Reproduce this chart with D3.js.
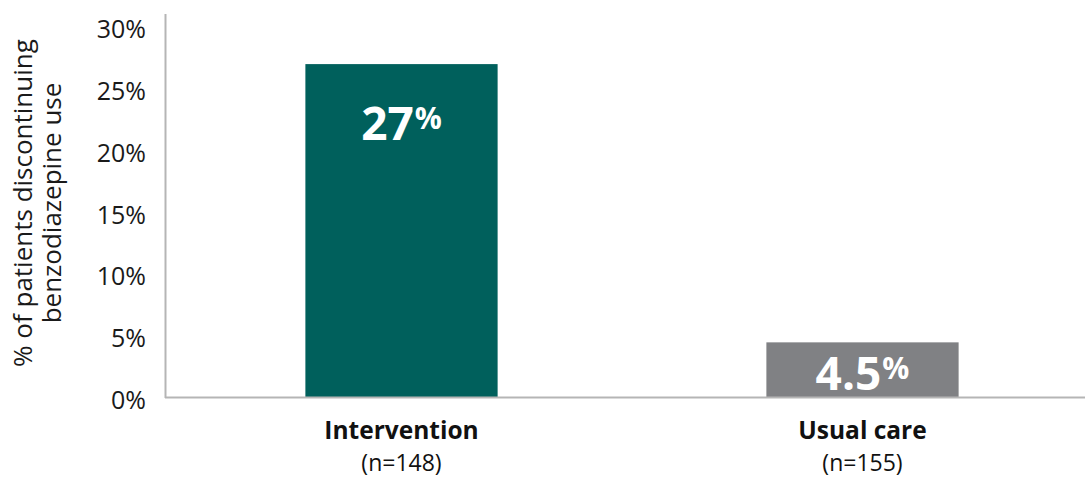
<!DOCTYPE html>
<html>
<head>
<meta charset="utf-8">
<script src="https://cdn.jsdelivr.net/npm/d3@7"></script>
<style>
  html, body { margin: 0; padding: 0; background: #fff; }
  svg { display: block; font-family: "Open Sans", "Noto Sans", sans-serif; }
</style>
</head>
<body>
<svg id="chart"></svg>
<script>
// ── Data ──
const groups = ['Intervention', 'Usual care'];
const groupN = ['(n=148)', '(n=155)'];
const values = [27, 4.5];
const valueLabels = ['27', '4.5'];
const barColors = ['#00605c', '#808184'];
const yTicks = [0, 5, 10, 15, 20, 25, 30];
const yTitle = ['% of patients discontinuing', 'benzodiazepine use'];

const W = 1085, H = 478;
const svg = d3.select('#chart').attr('width', W).attr('height', H);

// ── Scales ──
const y = d3.scaleLinear().domain([0, 30]).range([398, 27]);
const x = d3.scaleBand().domain(groups).range([171, 1093])
  .paddingInner(0.583).paddingOuter(0.2915);

// ── Y axis ──
const yAxis = d3.axisLeft(y).tickValues(yTicks).tickSize(0).tickPadding(19)
  .tickFormat(d => d + '%');
const ya = svg.append('g').attr('transform', 'translate(165,0)').call(yAxis);
ya.select('.domain').remove();
ya.selectAll('text').attr('font-size', 25).attr('fill', '#1a1a1a')
  .attr('font-family', '"Open Sans", sans-serif').attr('dy', '0.42em');

svg.append('line').attr('x1', 165.5).attr('x2', 165.5).attr('y1', 14).attr('y2', 398)
  .attr('stroke', '#b5b5b5').attr('stroke-width', 2);

// ── Bars ──
svg.append('g').selectAll('rect').data(values).enter().append('rect')
  .attr('x', (d, i) => x(groups[i]))
  .attr('width', x.bandwidth())
  .attr('y', d => y(d))
  .attr('height', d => y(0) - y(d))
  .attr('fill', (d, i) => barColors[i]);

// baseline
svg.append('line').attr('x1', 165).attr('x2', W).attr('y1', 397.5).attr('y2', 397.5)
  .attr('stroke', '#b5b5b5').attr('stroke-width', 2);

// ── Value labels ──
const vl = svg.append('g').selectAll('text').data(values).enter().append('text')
  .attr('x', (d, i) => x(groups[i]) + x.bandwidth() / 2)
  .attr('y', (d, i) => i === 0 ? y(d) + 76 : y(0) - 8)
  .attr('text-anchor', 'middle')
  .attr('fill', '#fff').attr('font-weight', 700);
vl.append('tspan').attr('font-size', 46).text((d, i) => valueLabels[i]);
vl.append('tspan').attr('font-size', 30).attr('dy', -11).attr('dx', 1).text('%');

// ── Category labels ──
const cl = svg.append('g').selectAll('text').data(groups).enter().append('text')
  .attr('x', d => x(d) + x.bandwidth() / 2)
  .attr('text-anchor', 'middle').attr('fill', '#111');
cl.append('tspan').attr('y', 439).attr('font-size', 24.5).attr('font-weight', 700).text(d => d);
cl.append('tspan').attr('x', d => x(d) + x.bandwidth() / 2).attr('y', 471)
  .attr('font-size', 23).text((d, i) => groupN[i]);

// ── Y title ──
svg.append('text').attr('transform', 'translate(32,203) rotate(-90)')
  .attr('text-anchor', 'middle').attr('font-size', 26).attr('fill', '#1a1a1a')
  .selectAll('tspan').data(yTitle).enter().append('tspan')
  .attr('x', 0).attr('dy', (d, i) => i === 0 ? 0 : 29).text(d => d);
</script>
</body>
</html>
